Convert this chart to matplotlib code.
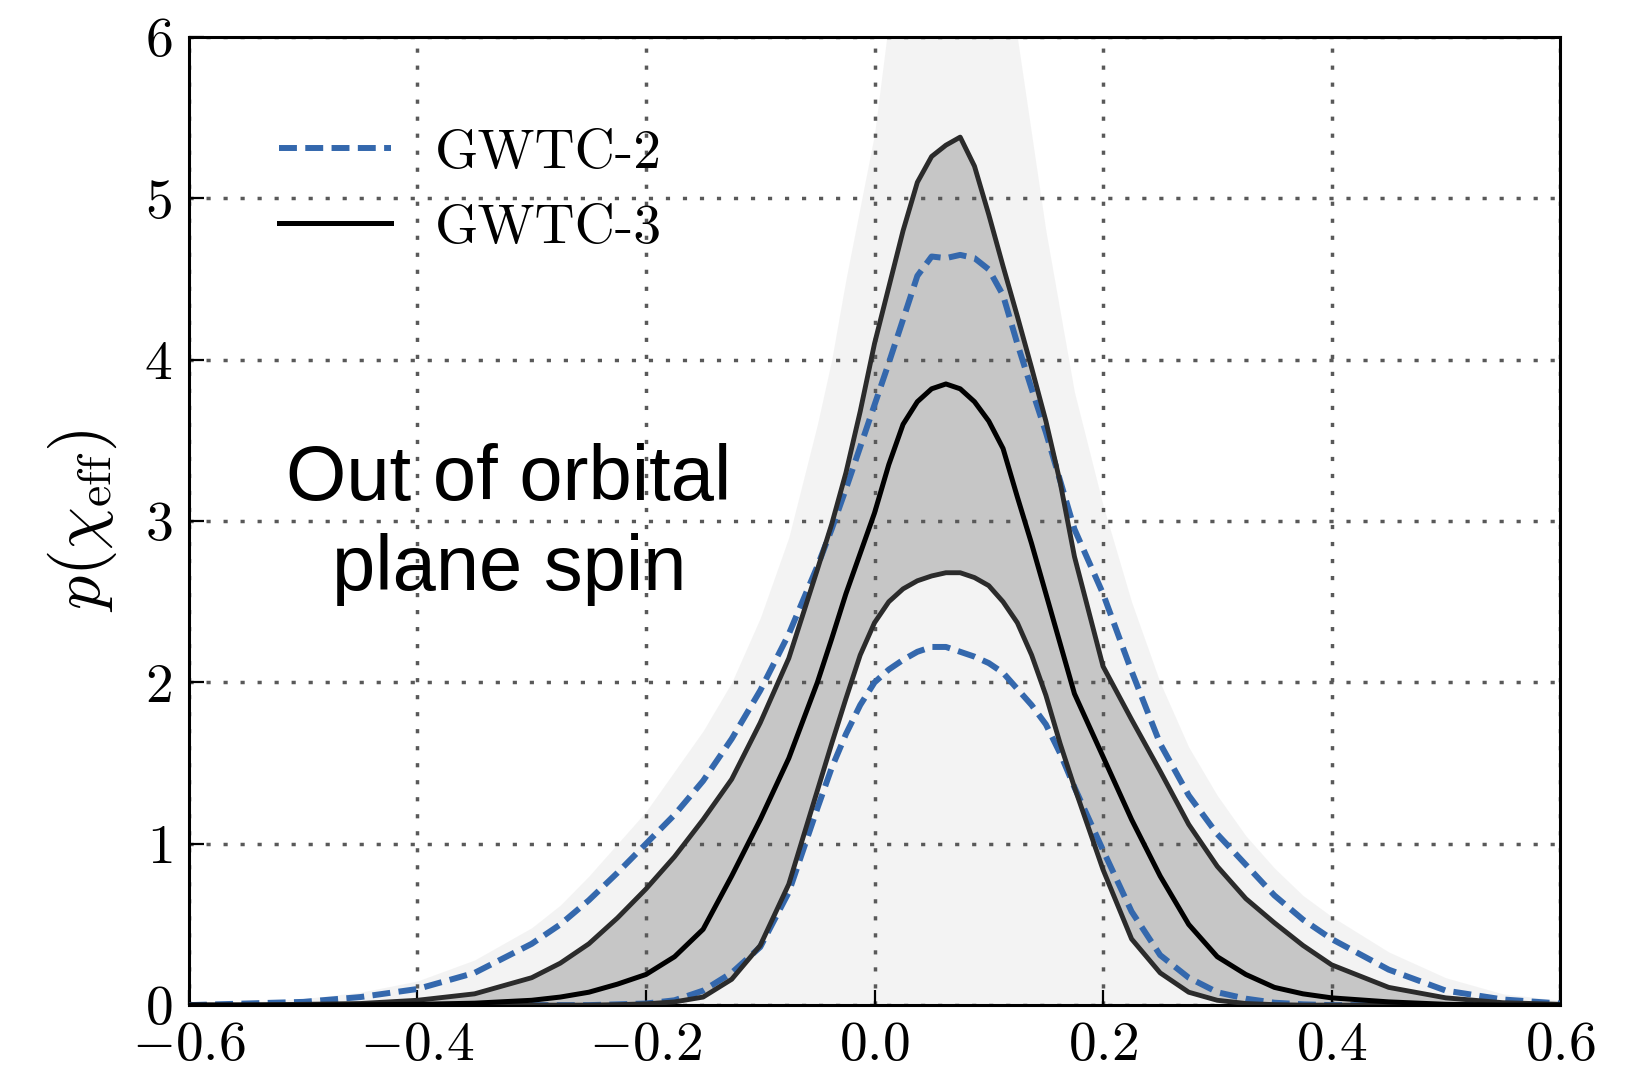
#!/usr/bin/env python3

import matplotlib
matplotlib.use("Agg")
import matplotlib.pyplot as plt
import numpy as np

# chi_eff grid the curves were read on
chi = [-0.6, -0.55, -0.5, -0.45, -0.4, -0.35, -0.3, -0.275, -0.25, -0.225,
       -0.2, -0.175, -0.15, -0.125, -0.1, -0.075, -0.05, -0.0375, -0.025, -0.0125,
       0.0, 0.0125, 0.025, 0.0375, 0.05, 0.0625, 0.075, 0.0875, 0.1, 0.1125,
       0.125, 0.1375, 0.15, 0.1625, 0.175, 0.2, 0.225, 0.25, 0.275, 0.3,
       0.325, 0.35, 0.375, 0.4, 0.45, 0.5, 0.55, 0.6]

# GWTC-2 90% bounds (blue dashed)
gwtc2_hi = [0.0, 0.01, 0.02, 0.05, 0.1, 0.2, 0.38, 0.5, 0.65, 0.82,
            1.0, 1.18, 1.39, 1.65, 1.95, 2.3, 2.72, 2.95, 3.2, 3.46,
            3.72, 3.98, 4.25, 4.52, 4.64, 4.63, 4.65, 4.63, 4.56, 4.4,
            4.1, 3.82, 3.55, 3.25, 2.95, 2.55, 2.07, 1.62, 1.3, 1.06,
            0.87, 0.68, 0.53, 0.41, 0.22, 0.09, 0.035, 0.01]
gwtc2_lo = [0.0, 0.0, 0.0, 0.0, 0.0, 0.0, 0.0, 0.0, 0.0, 0.005,
            0.01, 0.03, 0.09, 0.2, 0.36, 0.7, 1.22, 1.47, 1.68, 1.86,
            2.0, 2.08, 2.14, 2.19, 2.22, 2.22, 2.19, 2.16, 2.12, 2.06,
            1.96, 1.86, 1.74, 1.56, 1.35, 0.96, 0.58, 0.31, 0.17, 0.08,
            0.04, 0.015, 0.005, 0.0, 0.0, 0.0, 0.0, 0.0]

# GWTC-3 median and 90% bounds (black)
gwtc3_hi = [0.0, 0.0, 0.005, 0.01, 0.03, 0.07, 0.17, 0.26, 0.38, 0.54,
            0.72, 0.92, 1.15, 1.4, 1.75, 2.15, 2.7, 2.98, 3.3, 3.68,
            4.1, 4.45, 4.8, 5.1, 5.26, 5.33, 5.38, 5.2, 4.9, 4.58,
            4.27, 3.95, 3.62, 3.24, 2.78, 2.1, 1.77, 1.45, 1.12, 0.86,
            0.66, 0.51, 0.37, 0.25, 0.11, 0.045, 0.015, 0.005]
gwtc3_med = [0.0, 0.0, 0.0, 0.002, 0.005, 0.012, 0.03, 0.05, 0.08, 0.13,
             0.19, 0.3, 0.47, 0.8, 1.15, 1.53, 2.0, 2.27, 2.55, 2.8,
             3.05, 3.35, 3.6, 3.74, 3.82, 3.85, 3.82, 3.74, 3.62, 3.45,
             3.15, 2.86, 2.55, 2.24, 1.93, 1.54, 1.15, 0.8, 0.5, 0.3,
             0.19, 0.11, 0.07, 0.045, 0.02, 0.005, 0.0, 0.0]
gwtc3_lo = [0.0, 0.0, 0.0, 0.0, 0.0, 0.0, 0.0, 0.0, 0.0, 0.003,
            0.008, 0.02, 0.05, 0.16, 0.37, 0.75, 1.33, 1.62, 1.9, 2.17,
            2.37, 2.5, 2.58, 2.63, 2.66, 2.68, 2.68, 2.65, 2.6, 2.5,
            2.37, 2.17, 1.92, 1.62, 1.35, 0.84, 0.41, 0.2, 0.08, 0.03,
            0.01, 0.003, 0.0, 0.0, 0.0, 0.0, 0.0, 0.0]

# upper edge of the faint population draws
draws_hi = [0.01, 0.02, 0.04, 0.08, 0.15, 0.28, 0.48, 0.62, 0.8, 1.0,
            1.2, 1.45, 1.7, 2.0, 2.4, 2.9, 3.6, 4.0, 4.5, 4.95,
            5.4, 6.1, 6.5, 6.5, 6.5, 6.5, 6.5, 6.5, 6.5, 6.5,
            6.0, 5.4, 4.8, 4.3, 3.8, 3.1, 2.5, 2.0, 1.6, 1.3,
            1.05, 0.85, 0.68, 0.55, 0.33, 0.17, 0.07, 0.03]

xticks = [-0.6, -0.4, -0.2, 0.0, 0.2, 0.4, 0.6]
yticks = [0, 1, 2, 3, 4, 5, 6]
labels = ["GWTC-2", "GWTC-3"]

plt.rcParams['font.family'] = 'serif'
plt.rcParams['font.serif'] = ['cmr10']
plt.rcParams['mathtext.fontset'] = 'cm'
plt.rcParams['axes.formatter.use_mathtext'] = True

blue = '#3468ad'

fig = plt.figure(figsize=(16.5, 10.75), dpi=100)
ax = fig.add_axes([0.1145, 0.065, 0.831, 0.9005])

# population draws shown as shaded bands
ax.fill_between(chi, 0, draws_hi, color='0.6', alpha=0.11, lw=0, zorder=1)
ax.fill_between(chi, gwtc3_lo, gwtc3_hi, color='0.42', alpha=0.33, lw=0, zorder=1)

ax.plot(chi, gwtc2_hi, color=blue, lw=4.3, ls=(0, (3, 1.4)), zorder=3, label=labels[0])
ax.plot(chi, gwtc2_lo, color=blue, lw=4.3, ls=(0, (3, 1.4)), zorder=3)
ax.plot(chi, gwtc3_hi, color='#2b2b2b', lw=3.5, zorder=4)
ax.plot(chi, gwtc3_lo, color='#2b2b2b', lw=3.5, zorder=4)
ax.plot(chi, gwtc3_med, color='black', lw=3.6, zorder=4, label=labels[1])

ax.set_xlim(-0.6, 0.6)
ax.set_ylim(0, 6)
ax.set_xticks(xticks)
ax.set_yticks(yticks)
ax.tick_params(direction='in', length=11, width=1.6, labelsize=40, pad=12)
ax.grid(True, color='0.35', lw=2.5, ls=(0, (1.2, 3.7)))
for s in ax.spines.values():
    s.set_linewidth(2.2)

ax.set_ylabel(r'$p(\chi_{\rm eff})$', fontsize=49, labelpad=18)

ax.text(-0.32, 2.98, "Out of orbital\nplane spin", family='Liberation Sans',
        fontsize=56, ha='center', va='center', linespacing=1.3, zorder=5)

ax.legend(loc='upper left', bbox_to_anchor=(0.066, 0.905), frameon=False,
          fontsize=40, handlelength=2.0, handletextpad=0.8, labelspacing=0.45,
          borderpad=0, borderaxespad=0)

fig.savefig('out.png', dpi=100)
